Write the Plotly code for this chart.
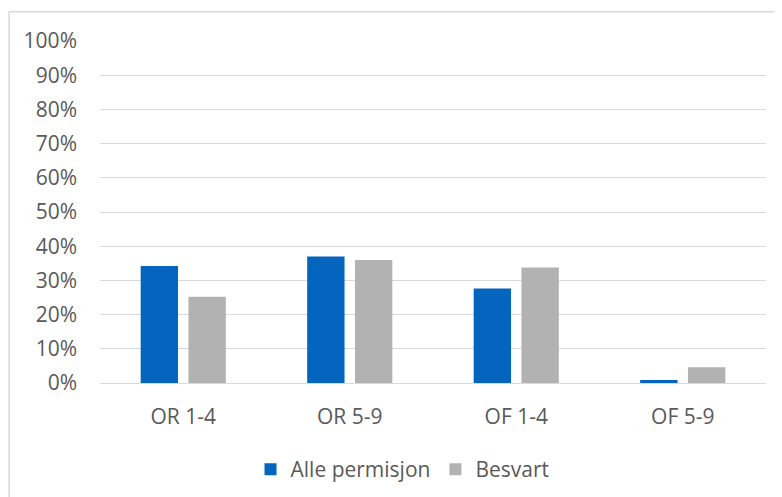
import plotly.graph_objects as go

categories = ["OR 1-4", "OR 5-9", "OF 1-4", "OF 5-9"]
alle_permisjon = [0.342, 0.370, 0.276, 0.009]
besvart = [0.252, 0.360, 0.338, 0.046]
y_ticks = [i / 10 for i in range(11)]

text_color = "#595959"
grid_color = "#D9D9D9"
font_family = "Open Sans, Noto Sans, sans-serif"

fig = go.Figure()
fig.add_trace(go.Bar(x=categories, y=alle_permisjon, name="Alle permisjon",
                     marker=dict(color="#0465BF", line=dict(width=0))))
fig.add_trace(go.Bar(x=categories, y=besvart, name="Besvart",
                     marker=dict(color="#B2B2B2", line=dict(width=0))))

# chart-area border (only top and left edges visible in the crop)
fig.add_shape(type="line", xref="paper", yref="paper", x0=-0.1365, x1=1.05,
              y0=1.0857, y1=1.0857, line=dict(color=grid_color, width=1.5))
fig.add_shape(type="line", xref="paper", yref="paper", x0=-0.1365, x1=-0.1365,
              y0=1.0857, y1=-0.36, line=dict(color=grid_color, width=1.5))

# the page body adds an 8px offset, margins compensate for it
fig.update_layout(
    width=782,
    height=497,
    margin=dict(l=92, r=24, t=33, b=122),
    paper_bgcolor="white",
    plot_bgcolor="white",
    barmode="group",
    bargap=0.426,
    bargroupgap=0.218,
    font=dict(family=font_family, size=21, color=text_color),
    legend=dict(orientation="h", x=0.226, xanchor="left", y=-0.193,
                yanchor="top", font=dict(size=21, color=text_color),
                itemwidth=30, traceorder="normal"),
)
fig.update_yaxes(range=[0, 1], tickvals=y_ticks, tickformat=".0%",
                 showgrid=True, gridcolor=grid_color, gridwidth=1.3,
                 zeroline=False, showline=False, ticks="",
                 ticklabelstandoff=22, automargin=False)
fig.update_xaxes(showline=True, linecolor=grid_color, linewidth=1.3,
                 ticks="", ticklabelstandoff=15, automargin=False)

fig.write_html("out.html")
